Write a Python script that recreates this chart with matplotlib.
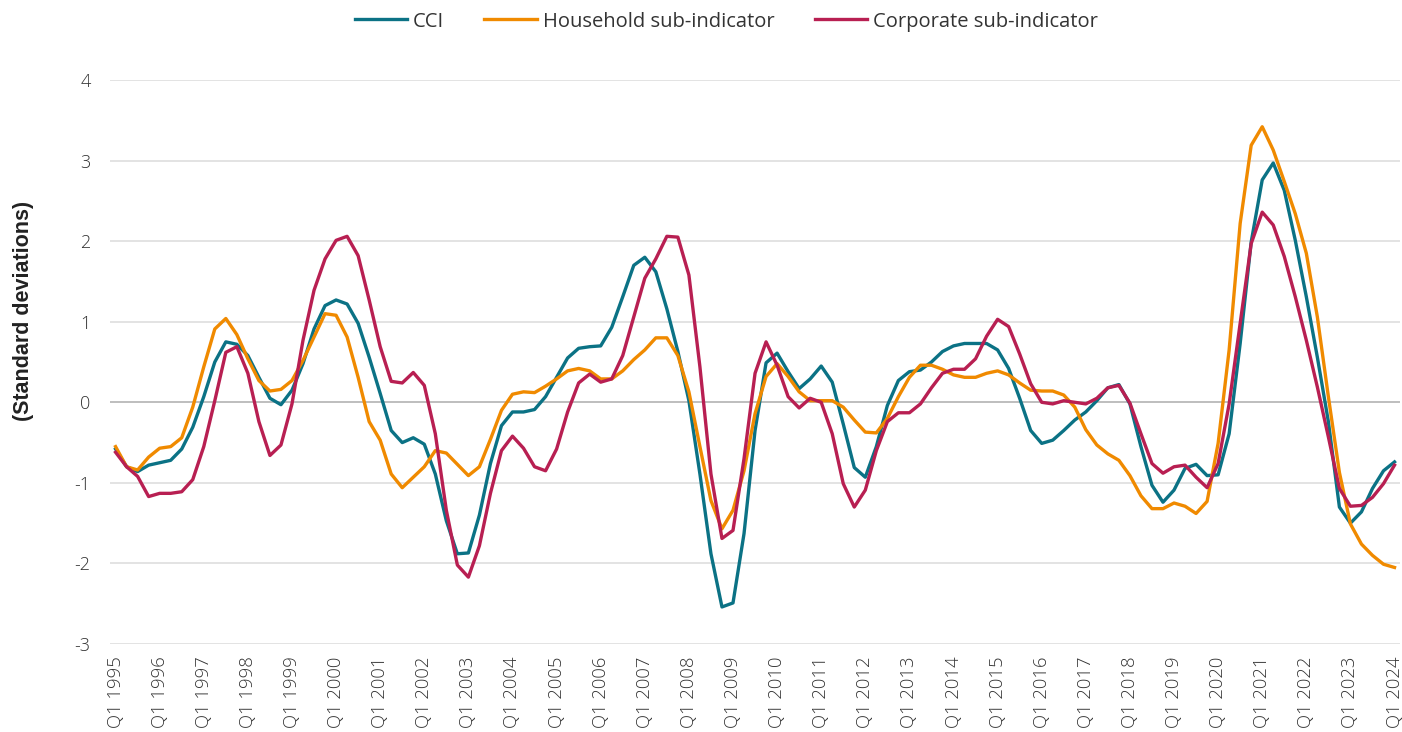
import matplotlib
matplotlib.use("Agg")
import matplotlib.pyplot as plt

plt.rcParams['font.family'] = ['Open Sans', 'DejaVu Sans']

# quarterly, Q1 1995 .. Q1 2024
firstYear = 1995
lastYear = 2024

cci = [-0.58, -0.80, -0.86, -0.78, -0.75, -0.72, -0.58, -0.31, 0.07, 0.50,
       0.75, 0.72, 0.58, 0.31, 0.05, -0.03, 0.15, 0.48, 0.91, 1.20,
       1.27, 1.22, 0.98, 0.56, 0.11, -0.35, -0.50, -0.44, -0.52, -0.89,
       -1.47, -1.88, -1.87, -1.40, -0.76, -0.29, -0.12, -0.12, -0.09, 0.07,
       0.31, 0.55, 0.67, 0.69, 0.70, 0.93, 1.31, 1.70, 1.80, 1.62,
       1.16, 0.63, 0.02, -0.89, -1.88, -2.54, -2.49, -1.63, -0.35, 0.49,
       0.61, 0.38, 0.17, 0.29, 0.45, 0.25, -0.27, -0.81, -0.93, -0.55,
       -0.04, 0.27, 0.38, 0.40, 0.50, 0.63, 0.70, 0.73, 0.73, 0.73,
       0.65, 0.42, 0.05, -0.35, -0.51, -0.47, -0.35, -0.22, -0.12, 0.02,
       0.18, 0.22, -0.02, -0.55, -1.03, -1.24, -1.09, -0.82, -0.77, -0.91,
       -0.90, -0.39, 0.73, 1.99, 2.76, 2.97, 2.63, 2.01, 1.31, 0.56,
       -0.24, -1.30, -1.50, -1.36, -1.07, -0.85, -0.74]

household = [-0.55, -0.80, -0.84, -0.68, -0.57, -0.55, -0.44, -0.06, 0.44, 0.91,
             1.04, 0.84, 0.54, 0.27, 0.14, 0.16, 0.27, 0.52, 0.81, 1.10,
             1.08, 0.81, 0.31, -0.24, -0.47, -0.89, -1.06, -0.93, -0.80, -0.60,
             -0.63, -0.77, -0.91, -0.80, -0.46, -0.10, 0.10, 0.13, 0.12, 0.20,
             0.29, 0.39, 0.42, 0.39, 0.29, 0.29, 0.39, 0.53, 0.65, 0.80,
             0.80, 0.58, 0.13, -0.55, -1.22, -1.57, -1.34, -0.85, -0.14, 0.32,
             0.48, 0.32, 0.13, 0.02, 0.02, 0.02, -0.06, -0.22, -0.37, -0.38,
             -0.20, 0.07, 0.31, 0.46, 0.46, 0.41, 0.34, 0.31, 0.31, 0.36,
             0.39, 0.34, 0.24, 0.15, 0.14, 0.14, 0.09, -0.06, -0.34, -0.53,
             -0.64, -0.72, -0.91, -1.16, -1.32, -1.32, -1.25, -1.29, -1.38, -1.23,
             -0.51, 0.65, 2.22, 3.19, 3.42, 3.13, 2.74, 2.34, 1.85, 1.06,
             0.07, -0.87, -1.51, -1.76, -1.90, -2.01, -2.05]

corporate = [-0.62, -0.80, -0.92, -1.17, -1.13, -1.13, -1.11, -0.96, -0.55, 0.02,
             0.62, 0.69, 0.36, -0.24, -0.66, -0.53, -0.02, 0.77, 1.39, 1.78,
             2.01, 2.06, 1.82, 1.27, 0.69, 0.26, 0.24, 0.37, 0.21, -0.39,
             -1.34, -2.02, -2.17, -1.78, -1.13, -0.60, -0.42, -0.57, -0.80, -0.85,
             -0.58, -0.12, 0.24, 0.35, 0.25, 0.29, 0.58, 1.06, 1.54, 1.78,
             2.06, 2.05, 1.58, 0.44, -0.89, -1.69, -1.59, -0.70, 0.36, 0.75,
             0.46, 0.07, -0.07, 0.05, 0.00, -0.39, -1.01, -1.30, -1.09, -0.60,
             -0.24, -0.13, -0.13, -0.02, 0.18, 0.36, 0.41, 0.41, 0.54, 0.82,
             1.03, 0.94, 0.60, 0.23, 0.00, -0.02, 0.02, 0.00, -0.02, 0.05,
             0.18, 0.21, -0.01, -0.39, -0.76, -0.88, -0.80, -0.78, -0.93, -1.06,
             -0.76, -0.02, 0.98, 1.97, 2.36, 2.20, 1.81, 1.31, 0.77, 0.19,
             -0.43, -1.07, -1.29, -1.28, -1.18, -1.01, -0.78]

seriesNames = ["CCI", "Household sub-indicator", "Corporate sub-indicator"]
seriesColors = ["#0b7285", "#f08a00", "#b81f52"]

quarters = []
for y in range(firstYear, lastYear + 1):
    for q in range(1, 5):
        quarters.append("Q%d %d" % (q, y))
quarters = quarters[:len(cci)]
xs = list(range(len(quarters)))

fig = plt.figure(figsize=(14.02, 7.32), dpi=100, facecolor='white')
ax = fig.add_axes([0.0785, 0.1202, 0.9201, 0.7705])

for yv in range(-3, 5):
    if yv == 0:
        ax.axhline(yv, color='#b3b3b3', lw=1.2, zorder=1)
    else:
        ax.axhline(yv, color='#dedede', lw=1.2, zorder=1)

for vals, name, col in zip([cci, household, corporate], seriesNames, seriesColors):
    ax.plot(xs, vals, color=col, lw=2.4, label=name, zorder=3)

ax.set_xlim(-0.5, len(xs) - 0.5)
ax.set_ylim(-3, 4)
ax.set_yticks(range(-3, 5))
ax.set_yticklabels([str(v) for v in range(-3, 5)], fontweight='light')
ax.set_xticks(xs[::4])
ax.set_xticklabels(quarters[::4], rotation=90, fontsize=13.3, color='#333333',
                   fontweight='light')
ax.tick_params(axis='y', labelsize=13, colors='#333333', length=0, pad=14)
ax.tick_params(axis='x', length=0, pad=9)
for s in ax.spines.values():
    s.set_visible(False)

# y label sits a bit above the axes middle in the original
fig.text(24 / 1402, 1 - 311 / 732, "(Standard deviations)", rotation=90,
         ha='center', va='center', fontsize=15.5, fontweight='bold',
         family=['Liberation Sans', 'DejaVu Sans'], color='#222222')

fig.legend(loc='upper center', bbox_to_anchor=(0.518, 1.009), ncol=3, frameon=False,
           fontsize=14.5, handlelength=2.6, columnspacing=2.0, handletextpad=0.3,
           labelcolor='#333333')

fig.savefig("out.png", dpi=100, facecolor='white')
